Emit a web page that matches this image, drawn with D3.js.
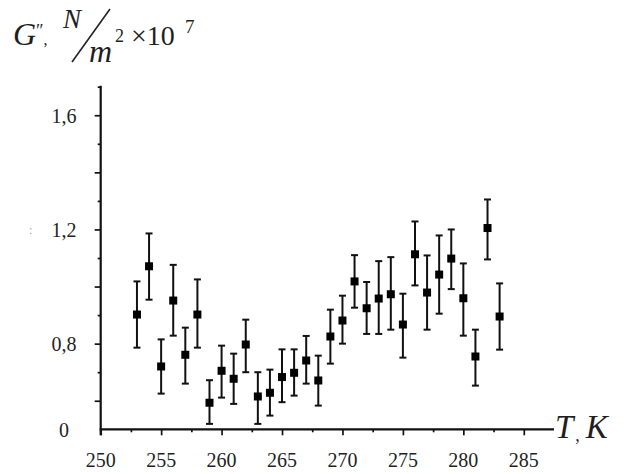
<!DOCTYPE html>
<html>
<head>
<meta charset="utf-8">
<script src="https://cdn.jsdelivr.net/npm/d3@7"></script>
<style>
  html, body { margin: 0; padding: 0; background: #fff; }
  svg { display: block; }
</style>
</head>
<body>
<svg id="chart" width="627" height="474"></svg>
<script>
// ---- data ----
const temperatures = [253,254,255,256,257,258,259,260,261,262,263,264,265,266,267,268,
                      269,270,271,272,273,274,275,276,277,278,279,280,281,282,283];
const gLoss = [0.902,1.071,0.720,0.951,0.761,0.902,0.593,0.705,0.677,0.797,0.615,0.628,
               0.683,0.698,0.741,0.671,0.825,0.881,1.018,0.924,0.958,0.973,0.867,1.113,
               0.979,1.042,1.098,0.959,0.755,1.205,0.895];
const errUpper = [1.018,1.186,0.815,1.076,0.856,1.025,0.672,0.793,0.765,0.884,0.700,0.709,
                  0.780,0.780,0.827,0.758,0.919,0.968,1.110,1.016,1.089,1.103,0.975,1.228,
                  1.109,1.179,1.200,1.081,0.849,1.305,1.011];
const errLower = [0.786,0.954,0.625,0.828,0.660,0.786,0.519,0.611,0.589,0.700,0.519,0.548,
                  0.595,0.618,0.660,0.583,0.730,0.800,0.926,0.834,0.834,0.849,0.751,1.004,
                  0.849,0.905,0.991,0.828,0.653,1.095,0.779];
const xTickValues = [250,255,260,265,270,275,280,285];
const xMinorTicks = [252.5,257.5,262.5,267.5,272.5,277.5,282.5];
const yTickValues = [0.6,0.8,1.0,1.2,1.4,1.6];
const yMinorTicks = [0.7,0.9,1.1,1.3,1.5,1.7];
const yLabelValues = [0.5,0.8,1.2,1.6];
const yLabelTexts = ["0","0,8","1,2","1,6"];

// ---- layout ----
const FONT = "'Liberation Serif', 'Times New Roman', Tinos, Times, 'DejaVu Serif', 'Noto Serif', serif";
const svg = d3.select("#chart");
const x = d3.scaleLinear().domain([250, 287.5]).range([100.7, 554]);
const y = d3.scaleLinear().domain([0.5, 1.7]).range([429.3, 86.7]);
const ink = "#111";
const txtCol = "#1f1f1f";

// x axis
const xAxis = svg.append("g").attr("transform", `translate(0,${y(0.5)})`);
xAxis.call(d3.axisBottom(x).tickValues(xTickValues).tickSize(6).tickFormat(""));
xAxis.append("g").call(d3.axisBottom(x).tickValues(xMinorTicks).tickSize(3).tickFormat(""));
xAxis.selectAll(".domain").remove();
xAxis.selectAll("line").attr("stroke", ink).attr("stroke-width", 1.7);
svg.append("line").attr("x1", x(250) - 1).attr("x2", x(287.5))
   .attr("y1", y(0.5)).attr("y2", y(0.5)).attr("stroke", ink).attr("stroke-width", 2.2);
svg.append("g").selectAll("text").data(xTickValues).join("text")
   .attr("x", d => x(d)).attr("y", y(0.5) + 37.5)
   .attr("text-anchor", "middle").attr("font-size", 20)
   .attr("font-family", FONT).attr("fill", txtCol)
   .text(d => d);

// y axis
const yAxis = svg.append("g").attr("transform", `translate(${x(250)},0)`);
yAxis.call(d3.axisLeft(y).tickValues(yTickValues).tickSize(6).tickFormat(""));
yAxis.append("g").call(d3.axisLeft(y).tickValues(yMinorTicks).tickSize(3).tickFormat(""));
yAxis.selectAll(".domain").remove();
yAxis.selectAll("line").attr("stroke", ink).attr("stroke-width", 1.7);
svg.append("line").attr("x1", x(250)).attr("x2", x(250))
   .attr("y1", y(1.7) - 1).attr("y2", y(0.5) + 6).attr("stroke", ink).attr("stroke-width", 2.2);
svg.append("g").selectAll("text").data(yLabelValues).join("text")
   .attr("x", 64).attr("y", d => y(d) + 7.5)
   .attr("text-anchor", "middle").attr("font-size", 20)
   .attr("font-family", FONT).attr("fill", txtCol)
   .text((d, i) => yLabelTexts[i]);

// error bars + markers
const pts = temperatures.map((t, i) => ({t, v: gLoss[i], hi: errUpper[i], lo: errLower[i]}));
const eb = svg.append("g").attr("stroke", ink).attr("stroke-width", 2);
eb.selectAll("line.v").data(pts).join("line").attr("class", "v")
  .attr("x1", d => x(d.t)).attr("x2", d => x(d.t))
  .attr("y1", d => y(d.hi)).attr("y2", d => y(d.lo));
eb.selectAll("line.t").data(pts).join("line").attr("class", "t")
  .attr("x1", d => x(d.t) - 3.5).attr("x2", d => x(d.t) + 3.5)
  .attr("y1", d => y(d.hi)).attr("y2", d => y(d.hi));
eb.selectAll("line.b").data(pts).join("line").attr("class", "b")
  .attr("x1", d => x(d.t) - 3.5).attr("x2", d => x(d.t) + 3.5)
  .attr("y1", d => y(d.lo)).attr("y2", d => y(d.lo));
svg.append("g").selectAll("rect").data(pts).join("rect")
  .attr("x", d => x(d.t) - 4).attr("y", d => y(d.v) - 4)
  .attr("width", 8).attr("height", 8).attr("fill", "#000");

// axis titles
const ttl = svg.append("g").attr("font-family", FONT).attr("fill", txtCol);
const g1 = ttl.append("text").attr("x", 13).attr("y", 45).attr("font-size", 32).attr("font-style", "italic");
g1.append("tspan").text("G");
g1.append("tspan").attr("font-size", 18).attr("dy", -8).attr("font-style", "normal").text("″");
g1.append("tspan").attr("font-size", 16).attr("dy", 8).attr("font-style", "normal").text(",");
ttl.append("text").attr("x", 63).attr("y", 28).attr("font-size", 27).attr("font-style", "italic").text("N");
svg.append("line").attr("x1", 72).attr("y1", 62).attr("x2", 110).attr("y2", 9)
   .attr("stroke", "#222").attr("stroke-width", 1.6);
ttl.append("text").attr("x", 89).attr("y", 62).attr("font-size", 32).attr("font-style", "italic").text("m");
ttl.append("text").attr("x", 115).attr("y", 42).attr("font-size", 18).text("2");
ttl.append("text").attr("x", 131).attr("y", 45).attr("font-size", 28).text("×10");
ttl.append("text").attr("x", 185).attr("y", 33).attr("font-size", 19).text("7");

const xt = svg.append("text").attr("x", 555).attr("y", 438)
   .attr("font-family", FONT).attr("fill", txtCol).attr("font-size", 33).attr("font-style", "italic");
xt.append("tspan").text("T");
xt.append("tspan").attr("font-size", 18).attr("dx", 2).attr("dy", 3).attr("font-style", "normal").text(",");
xt.append("tspan").attr("dx", 6).attr("dy", -3).text("K");

// faint stray mark seen in the reference
svg.append("text").attr("x", 29).attr("y", 234).attr("font-size", 12)
   .attr("font-family", FONT).attr("fill", "#8aa4c0").text(":");
</script>
</body>
</html>
